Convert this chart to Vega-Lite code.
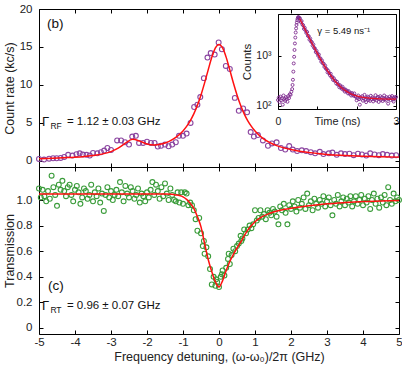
{
"$schema": "https://vega.github.io/schema/vega-lite/v6.json",
"background": "white",
"padding": {"left": 2, "top": 2, "right": 0, "bottom": 2},
"bounds": "flush",
"spacing": 0,
"config": {
  "font": "Liberation Sans",
  "view": {"stroke": "#000", "strokeWidth": 1},
  "axis": {"grid": false, "domain": false, "tickSize": -4, "tickColor": "#000", "tickWidth": 1, "labelFontSize": 11.5, "labelColor": "#222", "labelFlush": false, "titleFontSize": 12.5, "titleFontWeight": "normal", "titleColor": "#222", "labelFont": "Liberation Sans", "titleFont": "Liberation Sans"},
  "text": {"font": "Liberation Sans", "color": "#111"}
},
"datasets": {
  "rf": [{"f":-5.00,"v":0.26},{"f":-4.86,"v":0.18},{"f":-4.72,"v":0.30},{"f":-4.61,"v":0.35},{"f":-4.51,"v":0.35},{"f":-4.40,"v":0.39},{"f":-4.30,"v":0.53},{"f":-4.19,"v":0.80},{"f":-4.07,"v":0.70},{"f":-3.96,"v":0.88},{"f":-3.87,"v":1.00},{"f":-3.78,"v":0.83},{"f":-3.68,"v":0.80},{"f":-3.59,"v":0.70},{"f":-3.50,"v":1.05},{"f":-3.38,"v":1.00},{"f":-3.28,"v":1.14},{"f":-3.19,"v":1.36},{"f":-3.10,"v":1.70},{"f":-3.00,"v":1.45},{"f":-2.83,"v":2.70},{"f":-2.72,"v":2.70},{"f":-2.61,"v":2.46},{"f":-2.50,"v":2.15},{"f":-2.41,"v":3.20},{"f":-2.31,"v":3.30},{"f":-2.22,"v":2.37},{"f":-2.11,"v":2.37},{"f":-2.00,"v":2.54},{"f":-1.89,"v":2.37},{"f":-1.79,"v":2.37},{"f":-1.70,"v":1.90},{"f":-1.61,"v":2.00},{"f":-1.50,"v":2.15},{"f":-1.40,"v":1.93},{"f":-1.30,"v":2.15},{"f":-1.20,"v":2.46},{"f":-1.11,"v":3.30},{"f":-1.00,"v":3.30},{"f":-0.90,"v":3.60},{"f":-0.79,"v":5.00},{"f":-0.69,"v":7.10},{"f":-0.60,"v":7.40},{"f":-0.52,"v":8.40},{"f":-0.42,"v":10.90},{"f":-0.32,"v":13.60},{"f":-0.23,"v":14.20},{"f":-0.12,"v":14.00},{"f":-0.01,"v":15.60},{"f":0.08,"v":14.70},{"f":0.19,"v":12.50},{"f":0.30,"v":12.10},{"f":0.44,"v":8.30},{"f":0.55,"v":6.60},{"f":0.67,"v":6.90},{"f":0.78,"v":6.40},{"f":0.88,"v":3.80},{"f":0.97,"v":3.20},{"f":1.08,"v":3.40},{"f":1.22,"v":2.70},{"f":1.36,"v":2.00},{"f":1.47,"v":2.30},{"f":1.60,"v":2.45},{"f":1.72,"v":1.70},{"f":1.84,"v":1.50},{"f":1.95,"v":1.95},{"f":2.05,"v":1.50},{"f":2.17,"v":1.30},{"f":2.30,"v":1.40},{"f":2.42,"v":1.30},{"f":2.55,"v":1.15},{"f":2.67,"v":1.00},{"f":2.80,"v":1.20},{"f":2.90,"v":0.90},{"f":3.05,"v":1.00},{"f":3.15,"v":1.10},{"f":3.27,"v":0.80},{"f":3.39,"v":1.00},{"f":3.50,"v":0.90},{"f":3.62,"v":0.95},{"f":3.74,"v":0.75},{"f":3.86,"v":0.95},{"f":3.97,"v":0.85},{"f":4.09,"v":0.70},{"f":4.20,"v":1.00},{"f":4.32,"v":0.85},{"f":4.44,"v":0.75},{"f":4.55,"v":0.90},{"f":4.67,"v":0.80},{"f":4.80,"v":0.70},{"f":4.92,"v":0.75}],
  "rffit": [{"f":-5.0,"v":0.28},{"f":-4.6,"v":0.345},{"f":-4.2,"v":0.44},{"f":-3.8,"v":0.56},{"f":-3.4,"v":0.78},{"f":-3.2,"v":0.96},{"f":-3.0,"v":1.23},{"f":-2.8,"v":1.68},{"f":-2.6,"v":2.34},{"f":-2.4,"v":2.84},{"f":-2.2,"v":2.61},{"f":-2.0,"v":2.23},{"f":-1.8,"v":2.09},{"f":-1.6,"v":2.22},{"f":-1.4,"v":2.54},{"f":-1.2,"v":3.09},{"f":-1.0,"v":3.95},{"f":-0.9,"v":4.54},{"f":-0.8,"v":5.28},{"f":-0.7,"v":6.19},{"f":-0.6,"v":7.32},{"f":-0.5,"v":8.69},{"f":-0.4,"v":10.27},{"f":-0.3,"v":11.99},{"f":-0.2,"v":13.64},{"f":-0.1,"v":14.88},{"f":0.0,"v":15.34},{"f":0.1,"v":14.87},{"f":0.2,"v":13.63},{"f":0.3,"v":11.98},{"f":0.4,"v":10.26},{"f":0.5,"v":8.69},{"f":0.6,"v":7.32},{"f":0.7,"v":6.19},{"f":0.8,"v":5.27},{"f":0.9,"v":4.54},{"f":1.0,"v":3.93},{"f":1.2,"v":3.03},{"f":1.4,"v":2.43},{"f":1.6,"v":2.01},{"f":1.8,"v":1.72},{"f":2.0,"v":1.5},{"f":2.2,"v":1.32},{"f":2.4,"v":1.18},{"f":2.6,"v":1.06},{"f":2.8,"v":0.95},{"f":3.0,"v":0.85},{"f":3.5,"v":0.72},{"f":4.0,"v":0.62},{"f":4.5,"v":0.55},{"f":5.0,"v":0.5}],
  "rt": [{"f":-5.00,"t":1.09},{"f":-4.95,"t":1.02},{"f":-4.90,"t":1.08},{"f":-4.85,"t":1.03},{"f":-4.80,"t":0.99},{"f":-4.75,"t":1.07},{"f":-4.70,"t":1.01},{"f":-4.65,"t":1.19},{"f":-4.60,"t":1.10},{"f":-4.55,"t":1.04},{"f":-4.50,"t":0.955},{"f":-4.45,"t":1.12},{"f":-4.40,"t":1.08},{"f":-4.35,"t":1.15},{"f":-4.30,"t":1.07},{"f":-4.25,"t":1.03},{"f":-4.20,"t":1.10},{"f":-4.15,"t":1.12},{"f":-4.10,"t":1.04},{"f":-4.05,"t":0.99},{"f":-4.00,"t":1.08},{"f":-3.95,"t":1.11},{"f":-3.90,"t":1.06},{"f":-3.85,"t":0.97},{"f":-3.80,"t":1.02},{"f":-3.75,"t":1.09},{"f":-3.70,"t":1.07},{"f":-3.65,"t":1.01},{"f":-3.60,"t":1.04},{"f":-3.55,"t":1.12},{"f":-3.50,"t":0.99},{"f":-3.45,"t":1.06},{"f":-3.40,"t":1.03},{"f":-3.35,"t":1.09},{"f":-3.30,"t":0.98},{"f":-3.25,"t":1.05},{"f":-3.20,"t":0.915},{"f":-3.15,"t":1.04},{"f":-3.10,"t":1.10},{"f":-3.05,"t":1.02},{"f":-3.00,"t":1.07},{"f":-2.95,"t":1.00},{"f":-2.90,"t":1.04},{"f":-2.85,"t":1.08},{"f":-2.80,"t":1.03},{"f":-2.75,"t":1.14},{"f":-2.70,"t":1.06},{"f":-2.65,"t":0.99},{"f":-2.60,"t":1.11},{"f":-2.55,"t":1.05},{"f":-2.50,"t":1.02},{"f":-2.45,"t":1.10},{"f":-2.40,"t":1.07},{"f":-2.35,"t":1.01},{"f":-2.30,"t":1.04},{"f":-2.25,"t":1.09},{"f":-2.20,"t":0.98},{"f":-2.15,"t":1.05},{"f":-2.10,"t":1.03},{"f":-2.05,"t":0.99},{"f":-2.00,"t":1.06},{"f":-1.95,"t":1.02},{"f":-1.90,"t":1.08},{"f":-1.85,"t":1.14},{"f":-1.80,"t":1.04},{"f":-1.75,"t":1.12},{"f":-1.70,"t":1.07},{"f":-1.65,"t":1.01},{"f":-1.60,"t":1.10},{"f":-1.55,"t":1.03},{"f":-1.50,"t":1.13},{"f":-1.45,"t":1.05},{"f":-1.40,"t":1.00},{"f":-1.35,"t":1.09},{"f":-1.30,"t":1.04},{"f":-1.25,"t":1.00},{"f":-1.20,"t":0.99},{"f":-1.15,"t":1.06},{"f":-1.10,"t":0.98},{"f":-1.05,"t":1.06},{"f":-1.00,"t":0.97},{"f":-0.95,"t":1.06},{"f":-0.90,"t":1.05},{"f":-0.85,"t":0.96},{"f":-0.80,"t":0.98},{"f":-0.75,"t":0.96},{"f":-0.70,"t":0.92},{"f":-0.65,"t":0.85},{"f":-0.60,"t":0.76},{"f":-0.55,"t":0.86},{"f":-0.50,"t":0.74},{"f":-0.45,"t":0.64},{"f":-0.42,"t":0.68},{"f":-0.40,"t":0.58},{"f":-0.35,"t":0.63},{"f":-0.30,"t":0.56},{"f":-0.25,"t":0.46},{"f":-0.20,"t":0.34},{"f":-0.15,"t":0.40},{"f":-0.10,"t":0.33},{"f":-0.08,"t":0.38},{"f":-0.05,"t":0.36},{"f":0.00,"t":0.32},{"f":0.05,"t":0.40},{"f":0.08,"t":0.42},{"f":0.10,"t":0.45},{"f":0.15,"t":0.41},{"f":0.20,"t":0.47},{"f":0.25,"t":0.54},{"f":0.27,"t":0.58},{"f":0.30,"t":0.50},{"f":0.35,"t":0.57},{"f":0.40,"t":0.62},{"f":0.45,"t":0.60},{"f":0.50,"t":0.64},{"f":0.55,"t":0.66},{"f":0.60,"t":0.72},{"f":0.62,"t":0.68},{"f":0.65,"t":0.70},{"f":0.70,"t":0.77},{"f":0.75,"t":0.74},{"f":0.80,"t":0.77},{"f":0.85,"t":0.80},{"f":0.90,"t":0.78},{"f":0.95,"t":0.81},{"f":1.00,"t":0.92},{"f":1.05,"t":0.84},{"f":1.10,"t":0.86},{"f":1.15,"t":0.92},{"f":1.20,"t":0.87},{"f":1.25,"t":0.89},{"f":1.30,"t":0.85},{"f":1.35,"t":0.92},{"f":1.40,"t":0.90},{"f":1.45,"t":0.88},{"f":1.50,"t":0.93},{"f":1.55,"t":0.91},{"f":1.60,"t":0.87},{"f":1.65,"t":0.81},{"f":1.70,"t":0.95},{"f":1.75,"t":0.92},{"f":1.80,"t":0.97},{"f":1.85,"t":0.90},{"f":1.90,"t":0.81},{"f":1.95,"t":0.96},{"f":2.00,"t":0.93},{"f":2.05,"t":0.99},{"f":2.10,"t":0.95},{"f":2.15,"t":0.91},{"f":2.20,"t":1.00},{"f":2.25,"t":0.94},{"f":2.30,"t":0.97},{"f":2.35,"t":1.02},{"f":2.40,"t":0.93},{"f":2.45,"t":1.05},{"f":2.50,"t":0.96},{"f":2.55,"t":0.99},{"f":2.60,"t":0.92},{"f":2.65,"t":1.01},{"f":2.70,"t":0.97},{"f":2.75,"t":0.94},{"f":2.80,"t":1.00},{"f":2.85,"t":0.97},{"f":2.90,"t":1.03},{"f":2.95,"t":0.95},{"f":3.00,"t":0.99},{"f":3.05,"t":1.02},{"f":3.10,"t":0.96},{"f":3.15,"t":0.88},{"f":3.20,"t":1.00},{"f":3.25,"t":0.97},{"f":3.30,"t":1.04},{"f":3.35,"t":0.95},{"f":3.40,"t":0.99},{"f":3.45,"t":1.02},{"f":3.50,"t":0.96},{"f":3.55,"t":1.01},{"f":3.60,"t":0.98},{"f":3.65,"t":1.03},{"f":3.70,"t":0.95},{"f":3.75,"t":0.99},{"f":3.80,"t":1.03},{"f":3.85,"t":0.97},{"f":3.90,"t":1.00},{"f":3.95,"t":1.04},{"f":4.00,"t":0.96},{"f":4.05,"t":1.01},{"f":4.10,"t":0.98},{"f":4.15,"t":1.03},{"f":4.20,"t":0.93},{"f":4.25,"t":1.00},{"f":4.30,"t":1.05},{"f":4.35,"t":0.97},{"f":4.40,"t":1.01},{"f":4.45,"t":0.94},{"f":4.50,"t":1.02},{"f":4.55,"t":0.98},{"f":4.60,"t":1.04},{"f":4.65,"t":0.96},{"f":4.70,"t":1.10},{"f":4.75,"t":1.00},{"f":4.80,"t":0.97},{"f":4.85,"t":1.05},{"f":4.90,"t":0.99},{"f":4.95,"t":1.02},{"f":5.00,"t":1.00}],
  "rtfit": [{"f":-5.0,"t":1.047},{"f":-1.5,"t":1.047},{"f":-1.3,"t":1.045},{"f":-1.2,"t":1.04},{"f":-1.1,"t":1.035},{"f":-1.0,"t":1.025},{"f":-0.9,"t":1.005},{"f":-0.8,"t":0.975},{"f":-0.7,"t":0.935},{"f":-0.6,"t":0.87},{"f":-0.5,"t":0.79},{"f":-0.4,"t":0.66},{"f":-0.3,"t":0.535},{"f":-0.2,"t":0.44},{"f":-0.1,"t":0.36},{"f":0.0,"t":0.32},{"f":0.1,"t":0.37},{"f":0.2,"t":0.45},{"f":0.3,"t":0.52},{"f":0.4,"t":0.575},{"f":0.5,"t":0.625},{"f":0.6,"t":0.67},{"f":0.7,"t":0.72},{"f":0.8,"t":0.765},{"f":0.9,"t":0.8},{"f":1.0,"t":0.83},{"f":1.2,"t":0.87},{"f":1.4,"t":0.895},{"f":1.7,"t":0.92},{"f":2.0,"t":0.935},{"f":2.5,"t":0.955},{"f":3.0,"t":0.97},{"f":3.5,"t":0.98},{"f":4.0,"t":0.988},{"f":4.5,"t":0.993},{"f":5.0,"t":0.996}],
  "tr": [{"t":0.00,"c":130},{"t":0.02,"c":145},{"t":0.04,"c":118},{"t":0.06,"c":152},{"t":0.08,"c":128},{"t":0.10,"c":140},{"t":0.12,"c":105},{"t":0.14,"c":160},{"t":0.16,"c":135},{"t":0.18,"c":125},{"t":0.20,"c":148},{"t":0.22,"c":138},{"t":0.24,"c":120},{"t":0.26,"c":155},{"t":0.28,"c":142},{"t":0.30,"c":170},{"t":0.32,"c":165},{"t":0.34,"c":190},{"t":0.36,"c":215},{"t":0.37,"c":260},{"t":0.38,"c":330},{"t":0.39,"c":480},{"t":0.40,"c":700},{"t":0.41,"c":950},{"t":0.42,"c":1300},{"t":0.43,"c":1750},{"t":0.44,"c":2300},{"t":0.45,"c":2900},{"t":0.46,"c":3500},{"t":0.47,"c":4100},{"t":0.48,"c":4600},{"t":0.49,"c":5100},{"t":0.50,"c":5500},{"t":0.51,"c":5800},{"t":0.52,"c":5900},{"t":0.53,"c":5750},{"t":0.54,"c":5550},{"t":0.56,"c":5547},{"t":0.58,"c":4705},{"t":0.60,"c":4923},{"t":0.62,"c":4189},{"t":0.64,"c":4050},{"t":0.66,"c":3432},{"t":0.68,"c":3602},{"t":0.70,"c":3189},{"t":0.72,"c":2846},{"t":0.74,"c":2979},{"t":0.76,"c":2489},{"t":0.78,"c":2460},{"t":0.80,"c":2090},{"t":0.82,"c":2194},{"t":0.84,"c":1910},{"t":0.86,"c":1869},{"t":0.88,"c":1592},{"t":0.90,"c":1672},{"t":0.92,"c":1429},{"t":0.94,"c":1388},{"t":0.96,"c":1183},{"t":0.98,"c":1248},{"t":1.00,"c":1111},{"t":1.02,"c":998},{"t":1.04,"c":1052},{"t":1.06,"c":885},{"t":1.08,"c":881},{"t":1.10,"c":755},{"t":1.12,"c":799},{"t":1.14,"c":701},{"t":1.16,"c":693},{"t":1.18,"c":597},{"t":1.20,"c":633},{"t":1.22,"c":547},{"t":1.24,"c":538},{"t":1.26,"c":463},{"t":1.28,"c":496},{"t":1.30,"c":447},{"t":1.32,"c":407},{"t":1.34,"c":435},{"t":1.36,"c":372},{"t":1.38,"c":376},{"t":1.40,"c":328},{"t":1.42,"c":353},{"t":1.44,"c":315},{"t":1.46,"c":317},{"t":1.48,"c":278},{"t":1.50,"c":301},{"t":1.52,"c":265},{"t":1.54,"c":265},{"t":1.56,"c":233},{"t":1.58,"c":255},{"t":1.60,"c":235},{"t":1.62,"c":219},{"t":1.64,"c":239},{"t":1.66,"c":209},{"t":1.68,"c":215},{"t":1.70,"c":191},{"t":1.72,"c":210},{"t":1.74,"c":192},{"t":1.76,"c":197},{"t":1.78,"c":176},{"t":1.80,"c":195},{"t":1.82,"c":174},{"t":1.84,"c":179},{"t":1.86,"c":160},{"t":1.88,"c":179},{"t":1.90,"c":167},{"t":1.92,"c":158},{"t":1.94,"c":176},{"t":1.96,"c":156},{"t":1.98,"c":150},{"t":2.00,"c":128},{"t":2.02,"c":142},{"t":2.04,"c":160},{"t":2.06,"c":135},{"t":2.08,"c":105},{"t":2.10,"c":148},{"t":2.12,"c":138},{"t":2.14,"c":155},{"t":2.16,"c":126},{"t":2.18,"c":140},{"t":2.20,"c":165},{"t":2.22,"c":132},{"t":2.24,"c":118},{"t":2.26,"c":145},{"t":2.28,"c":152},{"t":2.30,"c":130},{"t":2.32,"c":140},{"t":2.34,"c":125},{"t":2.36,"c":158},{"t":2.38,"c":136},{"t":2.40,"c":147},{"t":2.42,"c":122},{"t":2.44,"c":140},{"t":2.46,"c":133},{"t":2.48,"c":162},{"t":2.50,"c":128},{"t":2.52,"c":143},{"t":2.54,"c":150},{"t":2.56,"c":119},{"t":2.58,"c":138},{"t":2.60,"c":155},{"t":2.62,"c":131},{"t":2.64,"c":146},{"t":2.66,"c":124},{"t":2.68,"c":140},{"t":2.70,"c":160},{"t":2.72,"c":135},{"t":2.74,"c":127},{"t":2.76,"c":149},{"t":2.78,"c":141},{"t":2.80,"c":110},{"t":2.82,"c":137},{"t":2.84,"c":152},{"t":2.86,"c":129},{"t":2.88,"c":144},{"t":2.90,"c":156},{"t":2.92,"c":133},{"t":2.94,"c":121},{"t":2.96,"c":147},{"t":2.98,"c":139},{"t":3.00,"c":150}],
  "trfit": [{"t":0.55,"c":5535},{"t":0.6,"c":4600},{"t":0.7,"c":3190},{"t":0.8,"c":2224},{"t":0.9,"c":1563},{"t":1.0,"c":1112},{"t":1.1,"c":803},{"t":1.2,"c":592},{"t":1.3,"c":447},{"t":1.4,"c":349},{"t":1.5,"c":281},{"t":1.6,"c":235},{"t":1.7,"c":203},{"t":1.8,"c":182},{"t":1.9,"c":167},{"t":2.0,"c":157},{"t":2.2,"c":145},{"t":2.4,"c":140},{"t":2.6,"c":137},{"t":2.8,"c":136},{"t":3.0,"c":135}],
  "gam": [{"t":1.0,"c":3120,"label":"γ = 5.49 ns⁻¹"}],
  "labB": [{"f":-4.78,"v":18.0,"label":"(b)"}],
  "gB": [{"f":-4.92,"v":5.13,"sym":"Γ","sub":"RF","rest":"= 1.12 ± 0.03 GHz"}],
  "labC": [{"f":-4.75,"t":0.33,"label":"(c)"}],
  "gC": [{"f":-4.92,"t":0.174,"sym":"Γ","sub":"RT","rest":"= 0.96 ± 0.07 GHz"}]
},
"vconcat": [
 {
  "width": 360, "height": 158,
  "resolve": {"scale": {"x": "independent", "y": "independent"}, "axis": {"x": "independent", "y": "independent"}},
  "layer": [
   {"data": {"name": "rf"},
    "mark": {"type": "point", "shape": "circle", "filled": false, "stroke": "#8B45A0", "strokeWidth": 1.1, "size": 24, "opacity": 1},
    "encoding": {
      "x": {"field": "f", "type": "quantitative", "scale": {"domain": [-5, 5], "nice": false, "zero": false}, "axis": {"orient": "bottom", "values": [-5,-4,-3,-2,-1,0,1,2,3,4,5], "labels": false, "title": null}},
      "y": {"field": "v", "type": "quantitative", "scale": {"domain": [-0.8, 20], "nice": false, "zero": false}, "axis": {"orient": "left", "values": [0,5,10,15,20], "labelPadding": 11, "title": "Count rate (kc/s)", "titlePadding": 3}}
    }},
   {"data": {"name": "rffit"},
    "mark": {"type": "line", "color": "#ff1010", "strokeWidth": 1.5, "interpolate": "monotone"},
    "encoding": {
      "x": {"field": "f", "type": "quantitative", "scale": {"domain": [-5, 5], "nice": false, "zero": false}, "axis": {"orient": "top", "values": [-5,-4,-3,-2,-1,0,1,2,3,4,5], "labels": false, "title": null}},
      "y": {"field": "v", "type": "quantitative", "scale": {"domain": [-0.8, 20], "nice": false, "zero": false}, "axis": {"orient": "right", "values": [0,5,10,15,20], "labels": false, "title": null}}
    }},
   {"data": {"name": "labB"},
    "mark": {"type": "text", "align": "left", "baseline": "middle", "fontSize": 13.5},
    "encoding": {
      "x": {"field": "f", "type": "quantitative", "scale": {"domain": [-5, 5], "nice": false, "zero": false}, "axis": null},
      "y": {"field": "v", "type": "quantitative", "scale": {"domain": [-0.8, 20], "nice": false, "zero": false}, "axis": null},
      "text": {"field": "label"}
    }},
   {"data": {"name": "gB"},
    "mark": {"type": "text", "align": "left", "baseline": "middle", "fontSize": 13},
    "encoding": {
      "x": {"field": "f", "type": "quantitative", "scale": {"domain": [-5, 5], "nice": false, "zero": false}, "axis": null},
      "y": {"field": "v", "type": "quantitative", "scale": {"domain": [-0.8, 20], "nice": false, "zero": false}, "axis": null},
      "text": {"field": "sym"}
    }},
   {"data": {"name": "gB"},
    "mark": {"type": "text", "align": "left", "baseline": "middle", "fontSize": 8.5, "dx": 8.5, "dy": 4},
    "encoding": {
      "x": {"field": "f", "type": "quantitative", "scale": {"domain": [-5, 5], "nice": false, "zero": false}, "axis": null},
      "y": {"field": "v", "type": "quantitative", "scale": {"domain": [-0.8, 20], "nice": false, "zero": false}, "axis": null},
      "text": {"field": "sub"}
    }},
   {"data": {"name": "gB"},
    "mark": {"type": "text", "align": "left", "baseline": "middle", "fontSize": 11.5, "dx": 25},
    "encoding": {
      "x": {"field": "f", "type": "quantitative", "scale": {"domain": [-5, 5], "nice": false, "zero": false}, "axis": null},
      "y": {"field": "v", "type": "quantitative", "scale": {"domain": [-0.8, 20], "nice": false, "zero": false}, "axis": null},
      "text": {"field": "rest"}
    }},
   {"data": {"name": "tr"},
    "mark": {"type": "point", "shape": "circle", "filled": false, "stroke": "#7E2A8E", "strokeWidth": 0.9, "size": 9, "opacity": 1},
    "encoding": {
      "x": {"field": "t", "type": "quantitative", "scale": {"domain": [0, 3], "range": [239, 357], "nice": false, "zero": false},
            "axis": {"orient": "bottom", "offset": -58, "values": [0,1,2,3], "labelExpr": "datum.value == 0 || datum.value == 3 ? datum.value + '' : ''", "domain": true, "domainColor": "#000", "tickSize": -3, "labelPadding": 10, "labelFontSize": 10.5, "title": "Time (ns)", "titleFontSize": 11, "titleY": 12, "titleBaseline": "middle"}},
      "y": {"field": "c", "type": "quantitative", "scale": {"type": "log", "domain": [86, 6800], "range": [100, 5], "nice": false},
            "axis": {"orient": "left", "offset": -239, "values": [100, 1000], "labelExpr": "datum.value == 100 ? '10²' : '10³'", "domain": true, "domainColor": "#000", "tickSize": -3, "labelPadding": 10, "labelFontSize": 10.5, "title": "Counts", "titleFontSize": 11.5, "titlePadding": 3}}
    }},
   {"data": {"name": "trfit"},
    "mark": {"type": "line", "color": "#e8102a", "strokeWidth": 1.2, "interpolate": "monotone"},
    "encoding": {
      "x": {"field": "t", "type": "quantitative", "scale": {"domain": [0, 3], "range": [239, 357], "nice": false, "zero": false},
            "axis": {"orient": "top", "offset": -5, "values": [0,1,2,3], "labels": false, "domain": true, "domainColor": "#000", "tickSize": -3, "title": null}},
      "y": {"field": "c", "type": "quantitative", "scale": {"type": "log", "domain": [86, 6800], "range": [100, 5], "nice": false},
            "axis": {"orient": "right", "offset": -3, "values": [100, 1000], "labels": false, "domain": true, "domainColor": "#000", "tickSize": -3, "title": null}}
    }},
   {"data": {"name": "gam"},
    "mark": {"type": "text", "align": "left", "baseline": "middle", "fontSize": 9.5},
    "encoding": {
      "x": {"field": "t", "type": "quantitative", "scale": {"domain": [0, 3], "range": [239, 357], "nice": false, "zero": false}, "axis": null},
      "y": {"field": "c", "type": "quantitative", "scale": {"type": "log", "domain": [86, 6800], "range": [100, 5], "nice": false}, "axis": null},
      "text": {"field": "label"}
    }}
  ]
 },
 {
  "width": 360, "height": 167,
  "resolve": {"scale": {"x": "independent", "y": "independent"}, "axis": {"x": "independent", "y": "independent"}},
  "layer": [
   {"data": {"name": "rt"},
    "mark": {"type": "point", "shape": "circle", "filled": false, "stroke": "#3A9C3A", "strokeWidth": 1.1, "size": 24, "opacity": 1},
    "encoding": {
      "x": {"field": "f", "type": "quantitative", "scale": {"domain": [-5, 5], "nice": false, "zero": false}, "axis": {"orient": "bottom", "values": [-5,-4,-3,-2,-1,0,1,2,3,4,5], "labelExpr": "datum.value + ''", "labelPadding": 6, "title": "Frequency detuning, (ω-ω₀)/2π (GHz)", "titlePadding": 3}},
      "y": {"field": "t", "type": "quantitative", "scale": {"domain": [-0.047, 1.258], "nice": false, "zero": false}, "axis": {"orient": "left", "values": [0,0.2,0.4,0.6,0.8,1.0], "labelExpr": "datum.value == 0 ? '0' : format(datum.value, '.1f')", "labelPadding": 11, "title": "Transmission", "titlePadding": 0}}
    }},
   {"data": {"name": "rtfit"},
    "mark": {"type": "line", "color": "#ff1010", "strokeWidth": 1.5, "interpolate": "monotone"},
    "encoding": {
      "x": {"field": "f", "type": "quantitative", "scale": {"domain": [-5, 5], "nice": false, "zero": false}, "axis": {"orient": "top", "values": [-5,-4,-3,-2,-1,0,1,2,3,4,5], "labels": false, "title": null}},
      "y": {"field": "t", "type": "quantitative", "scale": {"domain": [-0.047, 1.258], "nice": false, "zero": false}, "axis": {"orient": "right", "values": [0,0.2,0.4,0.6,0.8,1.0], "labels": false, "title": null}}
    }},
   {"data": {"name": "labC"},
    "mark": {"type": "text", "align": "left", "baseline": "middle", "fontSize": 13.5},
    "encoding": {
      "x": {"field": "f", "type": "quantitative", "scale": {"domain": [-5, 5], "nice": false, "zero": false}, "axis": null},
      "y": {"field": "t", "type": "quantitative", "scale": {"domain": [-0.047, 1.258], "nice": false, "zero": false}, "axis": null},
      "text": {"field": "label"}
    }},
   {"data": {"name": "gC"},
    "mark": {"type": "text", "align": "left", "baseline": "middle", "fontSize": 13},
    "encoding": {
      "x": {"field": "f", "type": "quantitative", "scale": {"domain": [-5, 5], "nice": false, "zero": false}, "axis": null},
      "y": {"field": "t", "type": "quantitative", "scale": {"domain": [-0.047, 1.258], "nice": false, "zero": false}, "axis": null},
      "text": {"field": "sym"}
    }},
   {"data": {"name": "gC"},
    "mark": {"type": "text", "align": "left", "baseline": "middle", "fontSize": 8.5, "dx": 8.5, "dy": 4},
    "encoding": {
      "x": {"field": "f", "type": "quantitative", "scale": {"domain": [-5, 5], "nice": false, "zero": false}, "axis": null},
      "y": {"field": "t", "type": "quantitative", "scale": {"domain": [-0.047, 1.258], "nice": false, "zero": false}, "axis": null},
      "text": {"field": "sub"}
    }},
   {"data": {"name": "gC"},
    "mark": {"type": "text", "align": "left", "baseline": "middle", "fontSize": 11.5, "dx": 25},
    "encoding": {
      "x": {"field": "f", "type": "quantitative", "scale": {"domain": [-5, 5], "nice": false, "zero": false}, "axis": null},
      "y": {"field": "t", "type": "quantitative", "scale": {"domain": [-0.047, 1.258], "nice": false, "zero": false}, "axis": null},
      "text": {"field": "rest"}
    }}
  ]
 }
]
}
